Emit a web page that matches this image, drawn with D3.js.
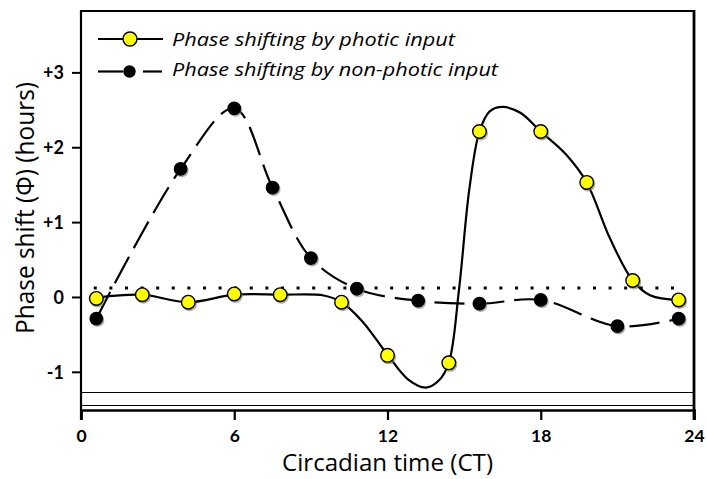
<!DOCTYPE html>
<html>
<head>
<meta charset="utf-8">
<script src="https://cdn.jsdelivr.net/npm/d3@7"></script>
<style>
  html, body { margin: 0; padding: 0; background: #fff; }
  svg { display: block; }
  text { font-family: "Open Sans", Lato, sans-serif; fill: #000; }
</style>
</head>
<body>
<svg id="chart" width="707" height="479"></svg>
<script>
// ---- data ----
const seriesNames = ["Phase shifting by photic input", "Phase shifting by non-photic input"];
// measured points: circadian time (CT) and phase shift (hours)
const photicCT     = [0.6, 2.4, 4.2, 6.0, 7.8, 10.2, 12.0, 14.4, 15.6, 18.0, 19.8, 21.6, 23.4];
const photicShift  = [-0.02, 0.03, -0.07, 0.04, 0.03, -0.07, -0.78, -0.88, 2.21, 2.21, 1.53, 0.22, -0.04];
const nonPhoticCT    = [0.6, 3.9, 6.0, 7.5, 9.0, 10.8, 13.2, 15.6, 18.0, 21.0, 23.4];
const nonPhoticShift = [-0.29, 1.71, 2.52, 1.46, 0.52, 0.11, -0.05, -0.09, -0.04, -0.39, -0.29];
// fitted curve drawn through the photic data (knots)
const photicFitCT    = [0.6, 1.1, 2.4, 4.2, 6.0, 7.8, 9.5, 10.2, 11.0, 12.0, 12.8, 13.5, 14.0, 14.4, 14.8, 15.2, 15.6, 16.0, 16.5, 17.2, 18.0, 19.0, 19.8, 20.7, 21.6, 22.3, 23.4];
const photicFitShift = [-0.02, 0.01, 0.03, -0.07, 0.03, 0.03, 0.02, -0.07, -0.32, -0.77, -1.10, -1.21, -1.12, -0.88, 0.10, 1.43, 2.21, 2.48, 2.54, 2.46, 2.21, 1.90, 1.53, 0.79, 0.22, 0.02, -0.04];
// dotted baseline level and its extent
const baselineLevel = [0.12];
const baselineSpan  = [0.5, 23.5];
// thin horizontal guide lines near the bottom
const guideLevels = [-1.27, -1.44];
const xTicks = [0, 6, 12, 18, 24];
const xTickLabels = ["0", "6", "12", "18", "24"];
const yTicks = [-1, 0, 1, 2, 3];
const yTickLabels = ["-1", "0", "+1", "+2", "+3"];
const xTitle = "Circadian time (CT)";
const yTitle = "Phase shift (\u03A6) (hours)";

// ---- layout ----
const svg = d3.select("#chart");
const mLeft = 81, mRight = 694, mTop = 11, mBottom = 410;
const x = d3.scaleLinear().domain([0, 24]).range([mLeft, mRight]);
const y = d3.scaleLinear().domain([-1.51, 3.82]).range([mBottom, mTop]);

// frame
const frame = svg.append("g").attr("stroke", "#000").attr("fill", "none");
frame.append("line").attr("x1", mLeft).attr("x2", mRight + 1).attr("y1", mTop).attr("y2", mTop).attr("stroke-width", 2.2);
frame.append("line").attr("x1", mLeft).attr("x2", mLeft).attr("y1", mTop - 1).attr("y2", mBottom + 10).attr("stroke-width", 2.2);
frame.append("line").attr("x1", mRight).attr("x2", mRight).attr("y1", mTop - 1).attr("y2", mBottom + 10).attr("stroke-width", 2.8);

// guide lines (snapped to the pixel grid so they stay crisp)
svg.append("g").selectAll("line").data(guideLevels).join("line")
  .attr("x1", mLeft).attr("x2", mRight)
  .attr("y1", d => Math.round(y(d)) + 0.5).attr("y2", d => Math.round(y(d)) + 0.5)
  .attr("stroke", "#000").attr("stroke-width", 1);

// x axis
const xAxis = svg.append("g").attr("transform", `translate(0,${mBottom})`)
  .call(d3.axisBottom(x).tickValues(xTicks).tickSize(10).tickFormat((d, i) => xTickLabels[i]));
xAxis.select(".domain").attr("stroke-width", 2.6);
xAxis.selectAll(".tick line").attr("stroke-width", 2.2);
xAxis.selectAll(".tick text").attr("y", 32).attr("dy", 0)
  .style("font-family", "Lato, sans-serif").style("font-size", "17.5px").style("font-weight", "bold").attr("fill", "#000");

// y axis
const yAxis = svg.append("g").attr("transform", `translate(${mLeft},0)`)
  .call(d3.axisLeft(y).tickValues(yTicks).tickSize(9).tickFormat((d, i) => yTickLabels[i]));
yAxis.select(".domain").remove();
yAxis.selectAll(".tick line").attr("stroke-width", 2);
yAxis.selectAll(".tick text").attr("x", -17).attr("dy", "0.36em")
  .style("font-family", "Lato, sans-serif").style("font-size", "18px").style("font-weight", "bold").attr("fill", "#000");

// titles
svg.append("text").attr("x", 282).attr("y", 471)
  .style("font-size", "24px")
  .attr("textLength", 211).attr("lengthAdjust", "spacingAndGlyphs")
  .text(xTitle);
svg.append("text").attr("transform", `translate(33.5,334) rotate(-90)`)
  .style("font-size", "26px")
  .attr("textLength", 252).attr("lengthAdjust", "spacingAndGlyphs")
  .text(yTitle);

// dotted baseline
svg.append("g").selectAll("line").data(baselineLevel).join("line")
  .attr("x1", x(baselineSpan[0])).attr("x2", x(baselineSpan[1]))
  .attr("y1", d => y(d)).attr("y2", d => y(d))
  .attr("stroke", "#000").attr("stroke-width", 3)
  .attr("stroke-dasharray", "3,12.6");

// curves
const nonPhotic = nonPhoticCT.map((c, i) => [c, nonPhoticShift[i]]);
const photic = photicCT.map((c, i) => [c, photicShift[i]]);
const photicFit = photicFitCT.map((c, i) => [c, photicFitShift[i]]);

const lineNP = d3.line().x(d => x(d[0])).y(d => y(d[1])).curve(d3.curveCatmullRom.alpha(0.5));
const lineP = d3.line().x(d => x(d[0])).y(d => y(d[1])).curve(d3.curveCatmullRom.alpha(0.5));

svg.append("path").datum(nonPhotic).attr("d", lineNP)
  .attr("fill", "none").attr("stroke", "#000").attr("stroke-width", 2.2)
  .attr("stroke-dasharray", "30,10");

svg.append("path").datum(photicFit).attr("d", lineP)
  .attr("fill", "none").attr("stroke", "#000").attr("stroke-width", 2.2);

// markers with soft shadow
function markers(data, r, fill) {
  const g = svg.append("g");
  g.selectAll("circle.sh").data(data).join("circle").attr("class", "sh")
    .attr("cx", d => x(d[0]) + 1.2).attr("cy", d => y(d[1]) + 1.6).attr("r", r + 0.6)
    .attr("fill", "#777").attr("opacity", 0.6);
  g.selectAll("circle.mk").data(data).join("circle").attr("class", "mk")
    .attr("cx", d => x(d[0])).attr("cy", d => y(d[1])).attr("r", r)
    .attr("fill", fill).attr("stroke", "#000").attr("stroke-width", 1.4);
}
markers(nonPhotic, 6.2, "#000");
markers(photic, 6.8, "#ffff00");

// legend
const lg = svg.append("g");
lg.append("line").attr("x1", 98).attr("x2", 163).attr("y1", 39).attr("y2", 39).attr("stroke", "#000").attr("stroke-width", 2.2);
lg.append("circle").attr("cx", 130).attr("cy", 39).attr("r", 7).attr("fill", "#ffff00").attr("stroke", "#000").attr("stroke-width", 1.4);
lg.append("line").attr("x1", 98).attr("x2", 123).attr("y1", 71.5).attr("y2", 71.5).attr("stroke", "#000").attr("stroke-width", 2.2);
lg.append("line").attr("x1", 143).attr("x2", 162).attr("y1", 71.5).attr("y2", 71.5).attr("stroke", "#000").attr("stroke-width", 2.2);
lg.append("circle").attr("cx", 129.5).attr("cy", 71.5).attr("r", 6.2).attr("fill", "#000");
const legendWidths = [283, 326];
lg.selectAll("text").data(seriesNames).join("text")
  .attr("x", 172).attr("y", (d, i) => 46 + i * 29.5)
  .style("font-size", "18.5px").style("font-style", "italic")
  .attr("textLength", (d, i) => legendWidths[i]).attr("lengthAdjust", "spacingAndGlyphs")
  .text(d => d);
</script>
</body>
</html>
